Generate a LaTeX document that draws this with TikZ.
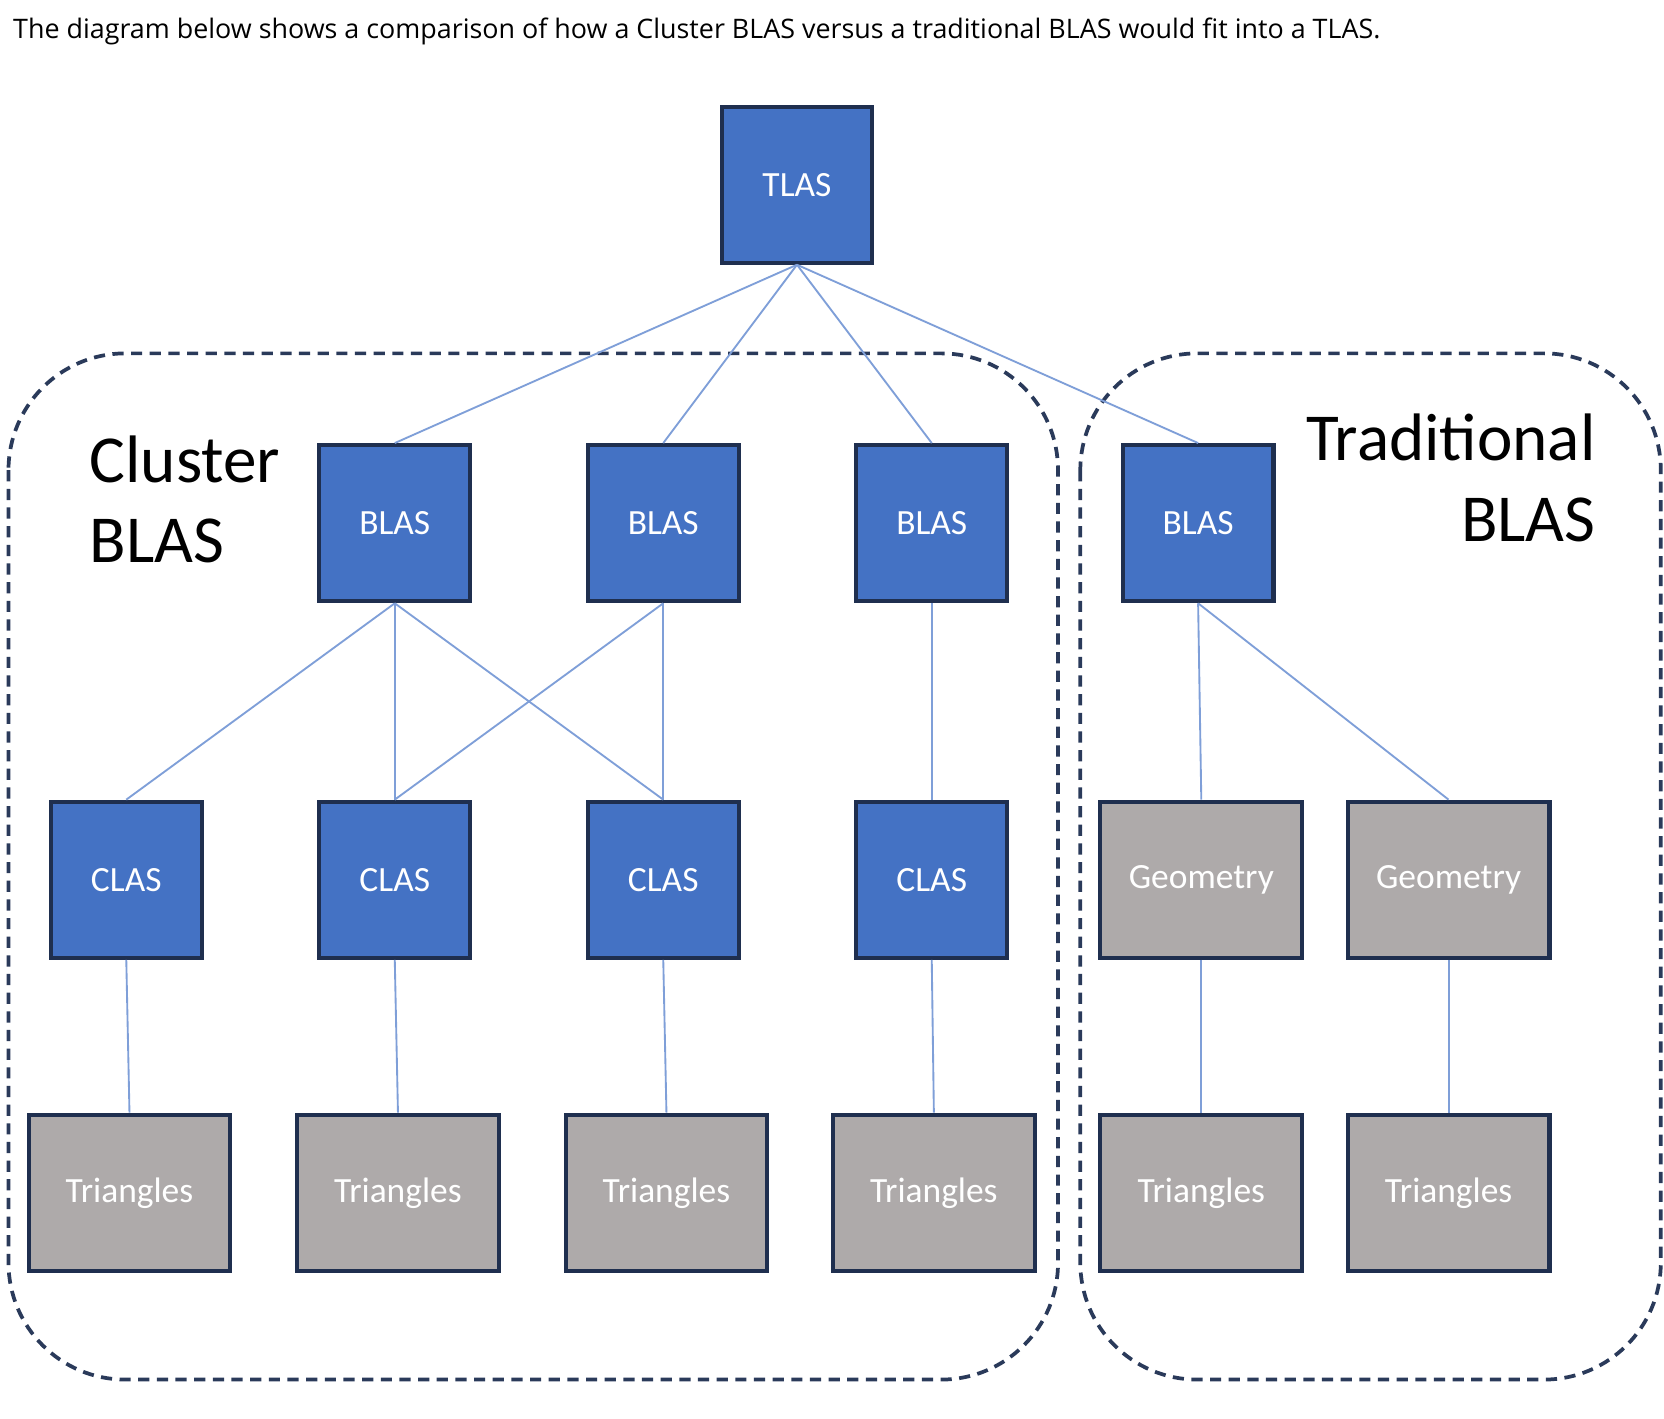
\documentclass[tikz,border=0pt]{standalone}
\usepackage{fontspec}
\setmainfont{Carlito}
\newfontfamily\capfont{Open Sans}
\usetikzlibrary{calc,positioning}
\definecolor{boxblue}{HTML}{4472C4}
\definecolor{boxgrey}{HTML}{AEAAAA}
\definecolor{boxedge}{HTML}{1F2F4F}
\definecolor{linkblue}{HTML}{7F9FD8}
\definecolor{dashedge}{HTML}{2A3A5A}
\begin{document}
\begin{tikzpicture}[x=0.01cm,y=-0.01cm]

\tikzset{bluenode/.style={font=\fontsize{9.5}{11}\selectfont,text=white,fill=boxblue,draw=boxedge,line width=1.1pt,minimum width=1.42cm,minimum height=1.47cm,inner sep=0pt},
greynode/.style={bluenode,fill=boxgrey,minimum width=1.9cm},
link/.style={draw=linkblue,line width=0.5pt},
region/.style={draw=dashedge,densely dashed,line width=1pt,rounded corners=1.1cm}}

\useasboundingbox (0,0) rectangle (1568,1337);

\node[anchor=west,font=\capfont\fontsize{7.2}{9}\selectfont] (caption) at (0,30) {The diagram below shows a comparison of how a Cluster BLAS versus a traditional BLAS would fit into a TLAS.};

% Regions
\draw[region] (8,333) rectangle (997,1300);
\draw[region] (1018,333) rectangle (1565,1300);
\node[anchor=north west,align=left,font=\fontsize{18}{21.5}\selectfont] (cluster) at (72,398) {Cluster\\BLAS};
\node[anchor=north east,align=right,font=\fontsize{18}{21.5}\selectfont] (trad) at (1516,378) {Traditional\\BLAS};

% Nodes
\node[bluenode] (tlas) at (751,174) {TLAS};
\foreach \i/\x in {1/372,2/625,3/878,4/1129} \node[bluenode] (blas\i) at (\x,493) {BLAS};
\foreach \i/\x in {1/119,2/372,3/625,4/878} \node[bluenode] (clas\i) at (\x,829) {CLAS};
\node[greynode] (geo1) at (1132,829) {Geometry};
\node[greynode] (geo2) at (1365,829) {Geometry};
\foreach \i/\x in {1/122,2/375,3/628,4/880,5/1132,6/1365} \node[greynode] (tri\i) at (\x,1124) {Triangles};

% Edges
\foreach \i in {1,2,3,4} \draw[link] (tlas.south) -- (blas\i.north);
\draw[link] (blas1.south) -- (clas1.north); \draw[link] (blas1.south) -- (clas2.north); \draw[link] (blas1.south) -- (clas3.north);
\draw[link] (blas2.south) -- (clas2.north); \draw[link] (blas2.south) -- (clas3.north);
\draw[link] (blas3.south) -- (clas4.north);
\draw[link] (blas4.south) -- (geo1.north); \draw[link] (blas4.south) -- (geo2.north);
\foreach \i in {1,2,3,4} \draw[link] (clas\i.south) -- (tri\i.north);
\draw[link] (geo1.south) -- (tri5.north); \draw[link] (geo2.south) -- (tri6.north);

\end{tikzpicture}
\end{document}
